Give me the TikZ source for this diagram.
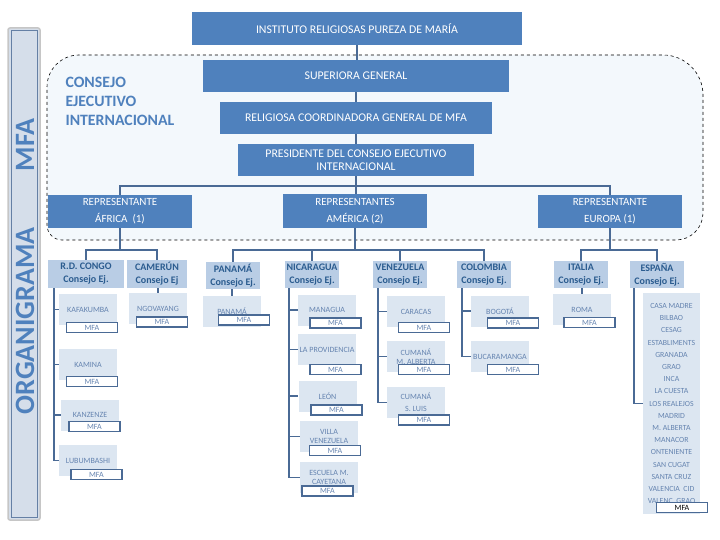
\documentclass[tikz,border=0pt]{standalone}
\usepackage{fontspec}
\setmainfont{Carlito}

\definecolor{boxblue}{HTML}{4F81BD}
\definecolor{paisfill}{HTML}{B9CDE5}
\definecolor{paistext}{HTML}{2B5C8F}
\definecolor{subfill}{HTML}{DCE6F1}
\definecolor{subtext}{HTML}{6584B0}
\definecolor{linecol}{HTML}{4A6A95}
\definecolor{framefill}{HTML}{F3F8FC}
\definecolor{barfill}{HTML}{D5DEEA}

\begin{document}
\begin{tikzpicture}[x=1pt, y=-1pt,
    mainbox/.style={rectangle, fill=boxblue, text=white, align=center, inner sep=0pt, font=\fontsize{11.8}{13}\selectfont},
    repbox/.style={mainbox, minimum width=144, minimum height=33, font=\fontsize{11}{17}\selectfont},
    paisbox/.style={rectangle, fill=paisfill, text=paistext, align=center, inner sep=0pt, minimum width=54, minimum height=27, font=\bfseries\fontsize{10}{13}\selectfont},
    lugar/.style={rectangle, fill=subfill, text=subtext, align=center, inner sep=0pt, minimum width=58, minimum height=31, font=\fontsize{8}{9}\selectfont},
    mfa/.style={rectangle, draw=linecol, line width=1.4pt, fill=white, text=subtext, inner sep=0pt, minimum width=51, minimum height=10, font=\fontsize{8}{8}\selectfont},
    tree/.style={draw=linecol, line width=1.6pt}]
    \useasboundingbox (0,0) rectangle (720,540);

    % Frame and side bar
    \draw[dashed, line width=0.6pt, fill=framefill] (47,150) [rounded corners=32] -- (47,55) -- (400,55) [rounded corners=40] -- (703,55) -- (703,150) [rounded corners=27] -- (703,240) -- (400,240) [rounded corners=15] -- (47,240) -- cycle;
    \draw[draw=gray!45, line width=1.5pt, fill=barfill, rounded corners=2] (8,28) rectangle (40,520);
    \draw[draw=linecol!85, line width=1pt] (11,31) rectangle (37,517);
    \node[rotate=90, text=boxblue, font=\bfseries\fontsize{28}{28}\selectfont] (titulo) at (25,266.5) {ORGANIGRAMA\hspace{56pt}MFA};
    \node[anchor=north west, align=left, text=boxblue, font=\bfseries\fontsize{15.8}{19}\selectfont] (consejo) at (62,74) {CONSEJO\\EJECUTIVO\\INTERNACIONAL};

    % Draw nodes
    \node[mainbox, minimum width=330, minimum height=33] (inst) at (357,28.5) {INSTITUTO RELIGIOSAS PUREZA DE MARÍA};
    \node[mainbox, minimum width=306, minimum height=32] (sup) at (356,76) {SUPERIORA GENERAL};
    \node[mainbox, minimum width=272, minimum height=32] (coord) at (356,118) {RELIGIOSA COORDINADORA GENERAL DE MFA};
    \node[mainbox, minimum width=236, minimum height=32] (pres) at (356,160) {PRESIDENTE DEL CONSEJO EJECUTIVO\\INTERNACIONAL};

    \node[repbox] (afr) at (120,211.5) {REPRESENTANTE\\ÁFRICA\ \ (1)};
    \node[repbox, minimum height=34] (amer) at (355,211) {REPRESENTANTES\\AMÉRICA (2)};
    \node[repbox] (eur) at (610,211.5) {REPRESENTANTE\\EUROPA (1)};

    \node[paisbox, minimum width=76, minimum height=28] (congo) at (86,274) {R.D. CONGO\\Consejo Ej.};
    \node[paisbox, minimum width=60, minimum height=28] (camerun) at (157,274) {CAMERÚN\\Consejo Ej};
    \node[paisbox] (panama) at (233,275.5) {PANAMÁ\\Consejo Ej.};
    \node[paisbox] (nicaragua) at (312,274.5) {NICARAGUA\\Consejo Ej.};
    \node[paisbox] (venezuela) at (400,274.5) {VENEZUELA\\Consejo Ej.};
    \node[paisbox] (colombia) at (484,274.5) {COLOMBIA\\Consejo Ej.};
    \node[paisbox] (italia) at (581,274.5) {ITALIA\\Consejo Ej.};
    \node[paisbox] (espana) at (657,274.5) {ESPAÑA\\Consejo Ej.};

    % Houses
    \node[lugar] (kafa) at (88,309.5) {KAFAKUMBA};
    \node[lugar] (kamina) at (88,364.5) {KAMINA};
    \node[lugar] (kanzenze) at (90,415) {KANZENZE};
    \node[lugar] (lubumbashi) at (88,460.5) {LUBUMBASHI};
    \node[lugar] (ngov) at (158,308.5) {NGOVAYANG};
    \node[lugar] (panamasub) at (232,311.5) {PANAMÁ};
    \node[lugar] (managua) at (327,310) {MANAGUA};
    \node[lugar] (provid) at (327,349.5) {LA PROVIDENCIA};
    \node[lugar] (leon) at (327.5,396) {LEÓN};
    \node[lugar] (villa) at (329,436.5) {VILLA\\VENEZUELA};
    \node[lugar] (escuela) at (329,477.5) {ESCUELA M.\\CAYETANA};
    \node[lugar] (caracas) at (416,311.5) {CARACAS};
    \node[lugar] (cumanaa) at (416,356.5) {CUMANÁ\\M. ALBERTA};
    \node[lugar, font=\fontsize{8}{12}\selectfont] (cumanab) at (416,402.5) {CUMANÁ\\S. LUIS};
    \node[lugar] (bogota) at (500,311) {BOGOTÁ};
    \node[lugar] (bucara) at (500,356.5) {BUCARAMANGA};
    \node[lugar] (roma) at (582,309.5) {ROMA};
    \node[lugar, minimum width=57, minimum height=221, font=\fontsize{7.8}{12.2}\selectfont] (espanalist) at (671.5,403.5) {CASA MADRE\\BILBAO\\CESAG\\ESTABLIMENTS\\GRANADA\\GRAO\\INCA\\LA CUESTA\\LOS REALEJOS\\MADRID\\M. ALBERTA\\MANACOR\\ONTENIENTE\\SAN CUGAT\\SANTA CRUZ\\VALENCIA\ \ CID\\VALENC. GRAO};

    % MFA labels
    \node[mfa] (kafamfa) at (92,327.5) {MFA};
    \node[mfa] (kaminamfa) at (92,381.5) {MFA};
    \node[mfa] (kanzenzemfa) at (94.5,426.5) {MFA};
    \node[mfa] (lubumbashimfa) at (96.5,474.5) {MFA};
    \node[mfa] (ngovmfa) at (162,322) {MFA};
    \node[mfa] (panamamfa) at (244,320) {MFA};
    \node[mfa] (managuamfa) at (335.5,323) {MFA};
    \node[mfa] (providmfa) at (335.5,369.5) {MFA};
    \node[mfa] (leonmfa) at (336.5,410) {MFA};
    \node[mfa] (villamfa) at (335,450.5) {MFA};
    \node[mfa] (escuelamfa) at (327.5,491) {MFA};
    \node[mfa] (caracasmfa) at (424,327.5) {MFA};
    \node[mfa] (cumanaamfa) at (424,369.5) {MFA};
    \node[mfa] (cumanabmfa) at (424,420) {MFA};
    \node[mfa] (bogotamfa) at (513,323) {MFA};
    \node[mfa] (bucaramfa) at (513,369.5) {MFA};
    \node[mfa] (romamfa) at (589.5,322.5) {MFA};
    \node[mfa, text=black] (espanamfa) at (682,507.5) {MFA};

    % Draw connections
    \coordinate (repbus) at (356,186);
    \coordinate (afrbus) at (120,250);
    \coordinate (amebus) at (355,250);
    \coordinate (eurbus) at (610,250);

    \draw[tree] (inst.south) -- (inst.south |- sup.north);
    \draw[tree] (sup) -- (coord);
    \draw[tree] (coord) -- (pres);
    \draw[tree] (pres.south) -- (repbus) -- (amer.north -| repbus);
    \draw[tree] (afr.north) |- (repbus) -| (eur.north);

    \draw[tree] (afr.south) -- (afrbus);
    \draw[tree] (congo.north) |- (afrbus) -| (camerun.north);
    \draw[tree] (amer.south) -- (amebus);
    \draw[tree] (panama.north) |- (amebus) -| (colombia.north);
    \draw[tree] (nicaragua.north) -- (nicaragua.north |- amebus);
    \draw[tree] (venezuela.north) -- (venezuela.north |- amebus);
    \draw[tree] (eur.south) -- (eurbus);
    \draw[tree] (italia.north) |- (eurbus) -| (espana.north);

    \foreach \casa in {kafa, kamina, kanzenze, lubumbashi}
        \draw[tree] ([xshift=6]congo.south west) |- (\casa.west);
    \foreach \casa in {managua, provid, leon, villa, escuela}
        \draw[tree] ([xshift=4]nicaragua.south west) |- (\casa.west);
    \foreach \casa in {caracas, cumanaa, cumanab}
        \draw[tree] ([xshift=5]venezuela.south west) |- (\casa.west);
    \foreach \casa in {bogota, bucara}
        \draw[tree] ([xshift=5]colombia.south west) |- (\casa.west);
    \draw[tree] ([xshift=4]espana.south west) |- (espanalist.west);
    \draw[tree] (camerun.south -| ngov) -- (ngov.north);
    \draw[tree] (panama.south -| panamasub) -- (panamasub.north);
    \draw[tree] (italia.south -| roma) -- (roma.north);
\end{tikzpicture}
\end{document}
